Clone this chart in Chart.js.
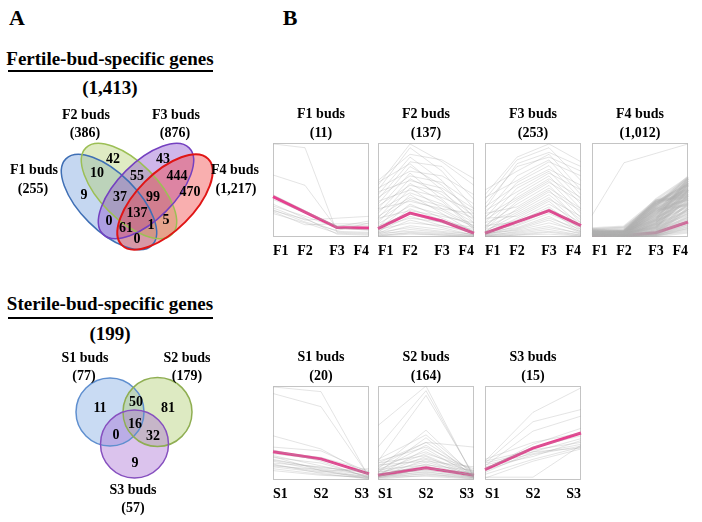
<!DOCTYPE html>
<html><head><meta charset="utf-8">
<script src="https://cdn.jsdelivr.net/npm/chart.js@4.4.0/dist/chart.umd.min.js"></script>
<style>
html,body{margin:0;padding:0;background:#fff;}
#wrap{position:relative;width:702px;height:522px;overflow:hidden;font-family:'Liberation Serif','Times New Roman',serif;font-weight:bold;color:#000;}
.t{position:absolute;transform:translate(-50%,-50%);white-space:nowrap;line-height:1;}
canvas{position:absolute;}
.ul{position:absolute;height:2px;background:#000;}
</style></head><body><div id="wrap"></div>
<script>
// ---------------- DATA ----------------
const fertileTitle = 'Fertile-bud-specific genes';
const fertileTotal = 1413;
const fertileSets = ['F1 buds', 'F2 buds', 'F3 buds', 'F4 buds'];
const fertileSetSizes = [255, 386, 876, 1217];
const fertileRegionCounts = [9, 42, 43, 470, 10, 55, 444, 5, 0, 37, 99, 1, 61, 137, 0];

const sterileTitle = 'Sterile-bud-specific genes';
const sterileTotal = 199;
const sterileSets = ['S1 buds', 'S2 buds', 'S3 buds'];
const sterileSetSizes = [77, 179, 57];
const sterileRegionCounts = [11, 50, 81, 16, 0, 32, 9];

const fertileStages = ['F1', 'F2', 'F3', 'F4'];
const sterileStages = ['S1', 'S2', 'S3'];
const fertileClusters = ['F1 buds', 'F2 buds', 'F3 buds', 'F4 buds'];
const fertileClusterSizes = [11, 137, 253, 1012];
const sterileClusters = ['S1 buds', 'S2 buds', 'S3 buds'];
const sterileClusterSizes = [20, 164, 15];

// mean expression profiles (pink)
const f1Mean = [0.43, 0.265, 0.10, 0.095];
const f2Mean = [0.09, 0.255, 0.17, 0.04];
const f3Mean = [0.04, 0.16, 0.28, 0.12];
const f4Mean = [0.015, 0.015, 0.045, 0.16];
const s1Mean = [0.30, 0.225, 0.065];
const s2Mean = [0.05, 0.13, 0.05];
const s3Mean = [0.11, 0.34, 0.50];

// individual gene profiles (gray)
const f1Genes = [
  [0.99,0.95,0.05,0.04],[0.66,0.55,0.09,0.08],[0.40,0.26,0.12,0.12],[0.31,0.18,0.20,0.22],
  [0.29,0.16,0.07,0.15],[0.28,0.19,0.06,0.05],[0.27,0.13,0.14,0.14],[0.25,0.15,0.04,0.03],
  [0.33,0.22,0.10,0.07],[0.45,0.28,0.11,0.17],[0.35,0.20,0.03,0.02]
];
const f2Genes = [
  [0.55,0.99,0.80,0.55],[0.50,0.95,0.70,0.30],[0.60,0.88,0.82,0.62],[0.45,0.85,0.60,0.20],
  [0.40,0.80,0.75,0.40],[0.58,0.78,0.50,0.15],[0.35,0.75,0.55,0.25],[0.52,0.70,0.65,0.45],
  [0.30,0.68,0.40,0.10],[0.42,0.65,0.58,0.35],[0.25,0.62,0.45,0.18],[0.48,0.60,0.52,0.30],
  [0.20,0.57,0.38,0.08],[0.33,0.55,0.48,0.22],[0.15,0.52,0.30,0.12],[0.38,0.50,0.42,0.28],
  [0.28,0.47,0.35,0.15],[0.10,0.45,0.25,0.05],[0.22,0.42,0.33,0.20],[0.18,0.40,0.28,0.10],
  [0.30,0.38,0.30,0.25],[0.08,0.35,0.20,0.06],[0.14,0.33,0.24,0.12],[0.05,0.30,0.18,0.03],
  [0.20,0.28,0.22,0.15],[0.12,0.25,0.15,0.08],[0.06,0.22,0.12,0.04],[0.10,0.20,0.16,0.10],
  [0.04,0.18,0.10,0.02],[0.08,0.15,0.12,0.06],[0.03,0.12,0.08,0.02],[0.05,0.10,0.06,0.03],
  [0.02,0.08,0.05,0.01],[0.04,0.06,0.04,0.02],[0.01,0.05,0.03,0.01],[0.02,0.04,0.02,0.01],
  [0.01,0.03,0.02,0.00]
];
const f3Genes = [
  [0.45,0.85,0.99,0.80],[0.40,0.82,0.95,0.60],[0.30,0.78,0.90,0.75],[0.50,0.70,0.88,0.50],
  [0.35,0.75,0.85,0.70],[0.25,0.65,0.82,0.45],[0.42,0.60,0.80,0.65],[0.20,0.58,0.76,0.40],
  [0.32,0.55,0.72,0.55],[0.15,0.52,0.70,0.35],[0.28,0.48,0.68,0.50],[0.10,0.45,0.65,0.30],
  [0.22,0.42,0.62,0.42],[0.18,0.40,0.60,0.25],[0.08,0.38,0.58,0.38],[0.12,0.35,0.55,0.20],
  [0.25,0.32,0.52,0.30],[0.05,0.30,0.50,0.15],[0.15,0.28,0.48,0.28],[0.10,0.26,0.45,0.18],
  [0.06,0.24,0.42,0.12],[0.20,0.22,0.40,0.22],[0.04,0.20,0.38,0.10],[0.08,0.18,0.35,0.15],
  [0.12,0.16,0.32,0.08],[0.03,0.15,0.30,0.12],[0.06,0.13,0.28,0.06],[0.02,0.12,0.25,0.10],
  [0.05,0.10,0.22,0.05],[0.03,0.09,0.20,0.08],[0.02,0.08,0.18,0.04],[0.04,0.07,0.15,0.06],
  [0.01,0.06,0.12,0.03],[0.02,0.05,0.10,0.04],[0.01,0.04,0.08,0.02],[0.01,0.03,0.06,0.02],
  [0.00,0.02,0.05,0.01],[0.00,0.02,0.03,0.01]
];
const f4Outliers = [
  [0.23,0.79,0.89,0.99]
];
const f4Genes = [
  [0.05,0.06,0.40,0.63],[0.03,0.05,0.38,0.55],[0.06,0.04,0.36,0.60],[0.04,0.06,0.35,0.48],
  [0.02,0.03,0.34,0.58],[0.05,0.05,0.32,0.62],[0.03,0.02,0.31,0.45],[0.04,0.04,0.30,0.52],
  [0.06,0.03,0.28,0.56],[0.02,0.05,0.27,0.40],[0.05,0.02,0.26,0.50],[0.03,0.04,0.25,0.60],
  [0.04,0.03,0.24,0.44],[0.02,0.02,0.22,0.54],[0.06,0.05,0.21,0.36],[0.03,0.03,0.20,0.48],
  [0.05,0.04,0.19,0.57],[0.02,0.02,0.18,0.42],[0.04,0.03,0.17,0.32],[0.03,0.01,0.16,0.50],
  [0.05,0.03,0.15,0.38],[0.02,0.02,0.14,0.46],[0.04,0.02,0.13,0.28],[0.03,0.01,0.12,0.40],
  [0.02,0.03,0.11,0.34],[0.04,0.02,0.10,0.24],[0.01,0.01,0.09,0.44],[0.03,0.02,0.08,0.30],
  [0.02,0.01,0.07,0.20],[0.04,0.02,0.06,0.36],[0.01,0.01,0.06,0.26],[0.03,0.01,0.05,0.16],
  [0.02,0.02,0.04,0.30],[0.01,0.01,0.04,0.22],[0.02,0.01,0.03,0.12],[0.01,0.00,0.03,0.18],
  [0.02,0.01,0.02,0.08],[0.01,0.00,0.02,0.14],[0.00,0.00,0.01,0.10],[0.01,0.00,0.01,0.05],
  [0.07,0.08,0.38,0.50],[0.06,0.07,0.34,0.64],[0.08,0.06,0.30,0.40],[0.07,0.05,0.23,0.58],
  [0.05,0.07,0.37,0.46],[0.02,0.04,0.29,0.34],[0.03,0.06,0.33,0.52],[0.04,0.05,0.18,0.62],
  [0.06,0.03,0.14,0.55],[0.03,0.04,0.10,0.50],[0.09,0.11,0.39,0.42],[0.08,0.10,0.36,0.56]
];
const s1Genes = [
  [0.99,0.94,0.03],[0.92,0.78,0.04],[0.47,0.33,0.05],[0.35,0.31,0.08],[0.32,0.20,0.02],
  [0.28,0.22,0.06],[0.26,0.15,0.04],[0.24,0.18,0.03],[0.22,0.12,0.05],[0.20,0.10,0.02],
  [0.18,0.14,0.07],[0.15,0.11,0.03],[0.14,0.08,0.04],[0.25,0.10,0.01],[0.12,0.06,0.02],
  [0.30,0.24,0.10],[0.16,0.09,0.12],[0.10,0.05,0.03],[0.21,0.13,0.09],[0.17,0.07,0.01]
];
const s2Genes = [
  [0.58,1.00,0.02],[0.35,0.95,0.03],[0.20,0.90,0.05],[0.12,0.53,0.04],[0.22,0.48,0.06],
  [0.08,0.45,0.03],[0.18,0.40,0.35],[0.15,0.40,0.08],[0.10,0.37,0.05],[0.20,0.35,0.10],
  [0.05,0.33,0.04],[0.14,0.30,0.07],[0.09,0.28,0.12],[0.18,0.26,0.05],[0.06,0.25,0.03],
  [0.12,0.23,0.09],[0.03,0.22,0.02],[0.16,0.20,0.14],[0.08,0.19,0.06],[0.04,0.17,0.04],
  [0.11,0.16,0.10],[0.06,0.15,0.02],[0.02,0.13,0.05],[0.09,0.12,0.08],[0.04,0.11,0.03],
  [0.07,0.10,0.06],[0.03,0.09,0.02],[0.05,0.08,0.04],[0.02,0.07,0.01],[0.04,0.06,0.03],
  [0.01,0.05,0.02],[0.03,0.04,0.01]
];
const s3Genes = [
  [0.20,0.72,0.98],[0.18,0.62,0.75],[0.15,0.52,0.68],[0.03,0.03,0.37],[0.22,0.40,0.50],
  [0.12,0.35,0.47],[0.20,0.32,0.40],[0.08,0.30,0.44],[0.16,0.28,0.38],[0.10,0.27,0.36],
  [0.14,0.25,0.42],[0.06,0.22,0.35],[0.18,0.30,0.34],[0.11,0.38,0.55],[0.02,0.20,0.33]
];

// ---------------- LAYOUT ----------------
const FONT = "'Liberation Serif', 'Times New Roman', serif";
Chart.defaults.font.family = FONT;
const wrap = document.getElementById('wrap');
const fmt = n => n.toLocaleString('en-US');

function text(str, x, y, size) {
  const d = document.createElement('div');
  d.className = 't';
  d.textContent = str;
  d.style.left = x + 'px'; d.style.top = y + 'px'; d.style.fontSize = size + 'px';
  wrap.appendChild(d);
}
function underline(x1, x2, y) {
  const d = document.createElement('div');
  d.className = 'ul';
  d.style.left = x1 + 'px'; d.style.top = y + 'px'; d.style.width = (x2 - x1) + 'px';
  wrap.appendChild(d);
}

text('A', 17, 18, 22);
text('B', 290, 18, 22);
text(fertileTitle, 110, 58, 19);
underline(8, 213, 70);
text('(' + fmt(fertileTotal) + ')', 110, 87, 19);
text(sterileTitle, 110, 303, 19);
underline(8, 213, 317);
text('(' + sterileTotal + ')', 110, 333, 19);

// --------- Venn diagrams (scatter chart with pixel-identical scales) ---------
const vennPlugin = {
  id: 'venn',
  afterDatasetsDraw(chart) {
    const o = chart.options.plugins.venn;
    const xs = chart.scales.x, ys = chart.scales.y, ctx = chart.ctx;
    ctx.save();
    const geom = s => {
      const cx = xs.getPixelForValue(s.cx), cy = ys.getPixelForValue(s.cy);
      return [cx, cy, xs.getPixelForValue(s.cx + s.rx) - cx, xs.getPixelForValue(s.cx + s.ry) - cx];
    };
    o.shapes.forEach(s => {
      const [cx, cy, rx, ry] = geom(s);
      ctx.beginPath();
      ctx.ellipse(cx, cy, rx, ry, s.rot, 0, Math.PI * 2);
      ctx.fillStyle = s.fill; ctx.fill();
    });
    o.shapes.forEach(s => {
      const [cx, cy, rx, ry] = geom(s);
      ctx.beginPath();
      ctx.ellipse(cx, cy, rx, ry, s.rot, 0, Math.PI * 2);
      ctx.strokeStyle = s.stroke; ctx.lineWidth = s.lw; ctx.stroke();
    });
    ctx.fillStyle = '#000';
    ctx.textAlign = 'center'; ctx.textBaseline = 'middle';
    chart.data.datasets.forEach((ds, di) => {
      const meta = chart.getDatasetMeta(di);
      meta.data.forEach((pt, i) => {
        ctx.font = 'bold ' + ds.fontSize + 'px ' + FONT;
        ctx.fillText(ds.labels[i], pt.x, pt.y);
      });
    });
    ctx.restore();
  }
};

function vennChart(left, top, w, h, shapes, groups) {
  const c = document.createElement('canvas');
  c.width = w; c.height = h;
  c.style.left = left + 'px'; c.style.top = top + 'px';
  wrap.appendChild(c);
  new Chart(c, {
    type: 'scatter',
    data: { datasets: groups.map(g => ({ data: g.pos.map(p => ({ x: p[0], y: p[1] })), labels: g.labels, fontSize: g.size, pointRadius: 0 })) },
    options: {
      responsive: false, animation: false, events: [],
      layout: { padding: 0 },
      plugins: { legend: { display: false }, tooltip: { enabled: false }, venn: { shapes } },
      scales: {
        x: { display: false, min: left, max: left + w },
        y: { display: false, min: top, max: top + h, reverse: true }
      }
    },
    plugins: [vennPlugin]
  });
}

vennChart(0, 95, 262, 175, [
  { cx: 109, cy: 202, rx: 61, ry: 28.5, rot: Math.PI / 4, fill: 'rgba(110,155,220,0.40)', stroke: '#3f6fb5', lw: 1.5 },
  { cx: 129, cy: 191, rx: 61, ry: 28.5, rot: Math.PI / 4, fill: 'rgba(175,205,105,0.40)', stroke: '#9cbf55', lw: 1.5 },
  { cx: 146, cy: 191, rx: 61, ry: 28.5, rot: -Math.PI / 4, fill: 'rgba(140,80,205,0.42)', stroke: '#7440c0', lw: 1.5 },
  { cx: 165, cy: 202, rx: 61, ry: 28.5, rot: -Math.PI / 4, fill: 'rgba(240,65,65,0.42)', stroke: '#e01515', lw: 2 }
], [
  { labels: fertileRegionCounts.map(String), size: 14,
    pos: [[84,195],[113,159],[163,159],[190,192],[97,173],[137,176],[177,176],[166,220],[109,221],[120,197],[153,197],[151,225],[126,228],[137,213],[137,239]] },
  { labels: fertileSets, size: 14, pos: [[34,170],[86,115],[176,115],[235,170]] },
  { labels: fertileSetSizes.map(v => '(' + fmt(v) + ')'), size: 14, pos: [[33,189],[85,133],[175,133],[236,189]] }
]);

vennChart(0, 340, 262, 182, [
  { cx: 110, cy: 412, rx: 34, ry: 34, rot: 0, fill: 'rgba(120,165,225,0.40)', stroke: '#5f8fcf', lw: 1.5 },
  { cx: 157.5, cy: 412, rx: 34.5, ry: 34.5, rot: 0, fill: 'rgba(175,205,110,0.42)', stroke: '#8fae52', lw: 1.5 },
  { cx: 134.5, cy: 444, rx: 34, ry: 34, rot: 0, fill: 'rgba(165,105,210,0.40)', stroke: '#8650bf', lw: 1.5 }
], [
  { labels: sterileRegionCounts.map(String), size: 14,
    pos: [[100,408],[136,402],[168,408],[135,424],[116,435],[153,436],[135,463]] },
  { labels: sterileSets, size: 14, pos: [[85,358],[187,358],[133,490]] },
  { labels: sterileSetSizes.map(v => '(' + fmt(v) + ')'), size: 14, pos: [[84,376],[187,376],[133,508]] }
]);

// --------- cluster profile panels ---------
const boxPlugin = {
  id: 'box',
  beforeDatasetsDraw(chart) {
    const a = chart.chartArea, ctx = chart.ctx;
    ctx.save();
    ctx.strokeStyle = '#c4c4c4'; ctx.lineWidth = 1;
    ctx.strokeRect(Math.round(a.left) + 0.5, Math.round(a.top) + 0.5, Math.round(a.right - a.left) - 1, Math.round(a.bottom - a.top) - 1);
    ctx.restore();
  }
};

const light = 'rgba(165,165,165,0.30)';
function panel(left, top, w, h, labels, genes, mean, name, size, grayW, grayC, extra) {
  const padX = 14, padT = 4, axisH = 24;
  const c = document.createElement('canvas');
  c.width = w + 2 * padX; c.height = h + padT + axisH;
  c.style.left = (left - padX) + 'px'; c.style.top = (top - padT) + 'px';
  wrap.appendChild(c);
  const cx = left + w / 2;
  text(name, cx, top - 29, 14);
  text('(' + fmt(size) + ')', cx, top - 10, 14);
  const datasets = (extra || []).map(g => ({ data: g, borderColor: light, borderWidth: 1, pointRadius: 0 }))
    .concat(genes.map(g => ({ data: g, borderColor: grayC, borderWidth: grayW, pointRadius: 0 })));
  datasets.push({ data: mean, borderColor: '#e6408f', borderWidth: 3, pointRadius: 0 });
  new Chart(c, {
    type: 'line',
    data: { labels, datasets },
    options: {
      responsive: false, animation: false, events: [],
      layout: { padding: { left: padX, right: padX, top: padT, bottom: 0 } },
      plugins: { legend: { display: false }, tooltip: { enabled: false } },
      elements: { line: { tension: 0 } },
      scales: {
        x: {
          offset: false,
          grid: { display: false, drawTicks: false },
          border: { display: false },
          ticks: { align: 'inner', padding: 6, color: '#000', autoSkip: false, maxRotation: 0,
                   font: { size: 14, weight: 'bold', family: FONT } },
          afterFit: s => { s.height = axisH; }
        },
        y: { display: false, min: 0, max: 1 }
      }
    },
    plugins: [boxPlugin]
  });
}

const fX = [273, 378, 485, 592], pw = 96, ph = 94;
panel(fX[0], 143, pw, ph, fertileStages, f1Genes, f1Mean, fertileClusters[0], fertileClusterSizes[0], 1, light);
panel(fX[1], 143, pw, ph, fertileStages, f2Genes, f2Mean, fertileClusters[1], fertileClusterSizes[1], 1, light);
panel(fX[2], 143, pw, ph, fertileStages, f3Genes, f3Mean, fertileClusters[2], fertileClusterSizes[2], 1, light);
panel(fX[3], 143, pw, ph, fertileStages, f4Genes, f4Mean, fertileClusters[3], fertileClusterSizes[3], 2.4, 'rgba(175,175,175,0.32)', f4Outliers);
panel(fX[0], 386, pw, ph, sterileStages, s1Genes, s1Mean, sterileClusters[0], sterileClusterSizes[0], 1, light);
panel(fX[1], 386, pw, ph, sterileStages, s2Genes, s2Mean, sterileClusters[1], sterileClusterSizes[1], 1, light);
panel(fX[2], 386, pw, ph, sterileStages, s3Genes, s3Mean, sterileClusters[2], sterileClusterSizes[2], 1, light);
</script></body></html>
